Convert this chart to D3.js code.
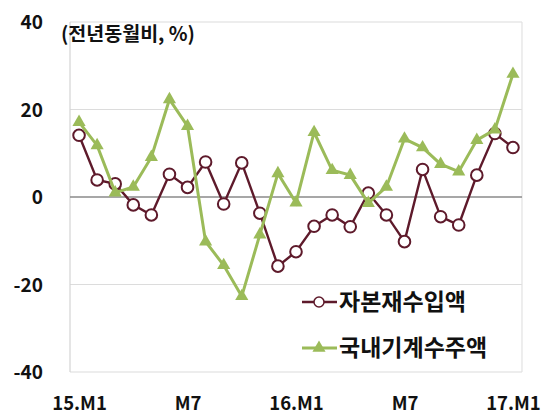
<!DOCTYPE html>
<html>
<head>
<meta charset="utf-8">
<script src="https://cdn.jsdelivr.net/npm/d3@7"></script>
<style>
  body { margin: 0; background: #fff; }
  text { font-family: "Noto Sans CJK KR", "Liberation Sans", sans-serif; font-weight: bold; fill: #111; }
</style>
</head>
<body>
<svg class="chart"></svg>
<script>
// months from 15.M1 to 17.M1
const months = d3.range(25);
const tickLabels = ["15.M1", "M7", "16.M1", "M7", "17.M1"];
const tickIndex = [0, 6, 12, 18, 24];
const yTicks = [40, 20, 0, -20, -40];

const seriesNames = ["자본재수입액", "국내기계수주액"];
const capitalImports = [14.1, 3.9, 3.0, -1.8, -4.1, 5.2, 2.2, 8.0, -1.6, 7.8, -3.7, -15.8, -12.5,
    -6.7, -4.1, -6.8, 0.9, -4.1, -10.2, 6.3, -4.5, -6.4, 5.0, 14.5, 11.3];
const machineOrders = [17.1, 11.8, 1.0, 2.3, 9.1, 22.3, 16.2, -10.2, -15.6, -22.7, -8.6, 5.4, -1.3,
    14.8, 6.1, 5.0, -1.4, 2.3, 13.3, 11.3, 7.5, 5.8, 13.0, 15.4, 28.1];

const canvas = {width: 547, height: 419};
const plot = {left: 70, right: 522, top: 22, bottom: 372};

const maroon = "#5e1a2b";
const green = "#9bbb59";

const svg = d3.select(".chart")
    .attr("width", canvas.width)
    .attr("height", canvas.height);

const x = d3.scalePoint().domain(months).range([plot.left, plot.right]).padding(0.5);
const y = d3.scaleLinear().domain([-40, 40]).range([plot.bottom, plot.top]);

// gridlines
svg.append("g")
    .selectAll("line")
    .data(yTicks.filter(d => d !== 0))
    .enter().append("line")
    .attr("x1", plot.left).attr("x2", plot.right)
    .attr("y1", d => y(d)).attr("y2", d => y(d))
    .attr("stroke", "#dcdcdc").attr("stroke-width", 1.2);

// plot border sides
svg.append("line")
    .attr("x1", plot.left).attr("x2", plot.left)
    .attr("y1", plot.top).attr("y2", plot.bottom)
    .attr("stroke", "#d4d4d4").attr("stroke-width", 1.2);
svg.append("line")
    .attr("x1", plot.right).attr("x2", plot.right)
    .attr("y1", plot.top).attr("y2", plot.bottom)
    .attr("stroke", "#e2e2e2").attr("stroke-width", 1.2);

// zero line
svg.append("line")
    .attr("x1", plot.left).attr("x2", plot.right)
    .attr("y1", y(0)).attr("y2", y(0))
    .attr("stroke", "#8a8a8a").attr("stroke-width", 1.3);

// y axis labels
const yAxis = d3.axisLeft(y).tickValues(yTicks).tickSize(0).tickPadding(0)
    .tickFormat(d => String(d));
const yG = svg.append("g")
    .attr("transform", "translate(43,0)")
    .call(yAxis);
yG.select(".domain").remove();
yG.selectAll("text")
    .style("font-size", "19px")
    .attr("font-family", null)
    .attr("dy", "0.35em");

// x axis labels
const xAxis = d3.axisBottom(x)
    .tickValues(tickIndex)
    .tickFormat((d, i) => tickLabels[i])
    .tickSize(0).tickPadding(0);
const xG = svg.append("g")
    .attr("transform", "translate(0,403)")
    .call(xAxis);
xG.select(".domain").remove();
xG.selectAll("text")
    .style("font-size", "18.5px")
    .attr("font-family", null)
    .attr("y", 0)
    .attr("dy", "0.36em");

// unit label
svg.append("text")
    .attr("x", 61).attr("y", 34).attr("dy", "0.36em")
    .style("font-size", "19.5px")
    .text("(전년동월비, %)");

// legend background
svg.append("rect")
    .attr("x", 290).attr("y", 287)
    .attr("width", 230).attr("height", 84)
    .attr("fill", "#fff");

const line = d3.line()
    .x((d, i) => x(i))
    .y(d => y(d));

// capital goods imports
svg.append("path")
    .datum(capitalImports)
    .attr("d", line)
    .attr("fill", "none")
    .attr("stroke", maroon)
    .attr("stroke-width", 2.4);
svg.append("g")
    .selectAll("circle")
    .data(capitalImports)
    .enter().append("circle")
    .attr("cx", (d, i) => x(i))
    .attr("cy", d => y(d))
    .attr("r", 5.8)
    .attr("fill", "#fff")
    .attr("stroke", maroon)
    .attr("stroke-width", 2);

// domestic machinery orders
svg.append("path")
    .datum(machineOrders)
    .attr("d", line)
    .attr("fill", "none")
    .attr("stroke", green)
    .attr("stroke-width", 3);
const tri = d3.symbol().type(d3.symbolTriangle).size(75);
svg.append("g")
    .selectAll("path")
    .data(machineOrders)
    .enter().append("path")
    .attr("d", tri)
    .attr("transform", (d, i) => "translate(" + x(i) + "," + y(d) + ")")
    .attr("fill", green);

// legend
const legend = svg.append("g").attr("transform", "translate(302,0)");
legend.append("line")
    .attr("x1", 0).attr("x2", 35).attr("y1", 302).attr("y2", 302)
    .attr("stroke", maroon).attr("stroke-width", 2.4);
legend.append("circle")
    .attr("cx", 17).attr("cy", 302).attr("r", 5)
    .attr("fill", "#fff").attr("stroke", maroon).attr("stroke-width", 1.5);
legend.append("text")
    .attr("x", 37).attr("y", 302).attr("dy", "0.36em")
    .style("font-size", "23px")
    .text(seriesNames[0]);

legend.append("line")
    .attr("x1", 0).attr("x2", 35).attr("y1", 348).attr("y2", 348)
    .attr("stroke", green).attr("stroke-width", 3);
legend.append("path")
    .attr("d", tri)
    .attr("transform", "translate(17,348)")
    .attr("fill", green);
legend.append("text")
    .attr("x", 37).attr("y", 348).attr("dy", "0.36em")
    .style("font-size", "23px")
    .text(seriesNames[1]);
</script>
</body>
</html>
